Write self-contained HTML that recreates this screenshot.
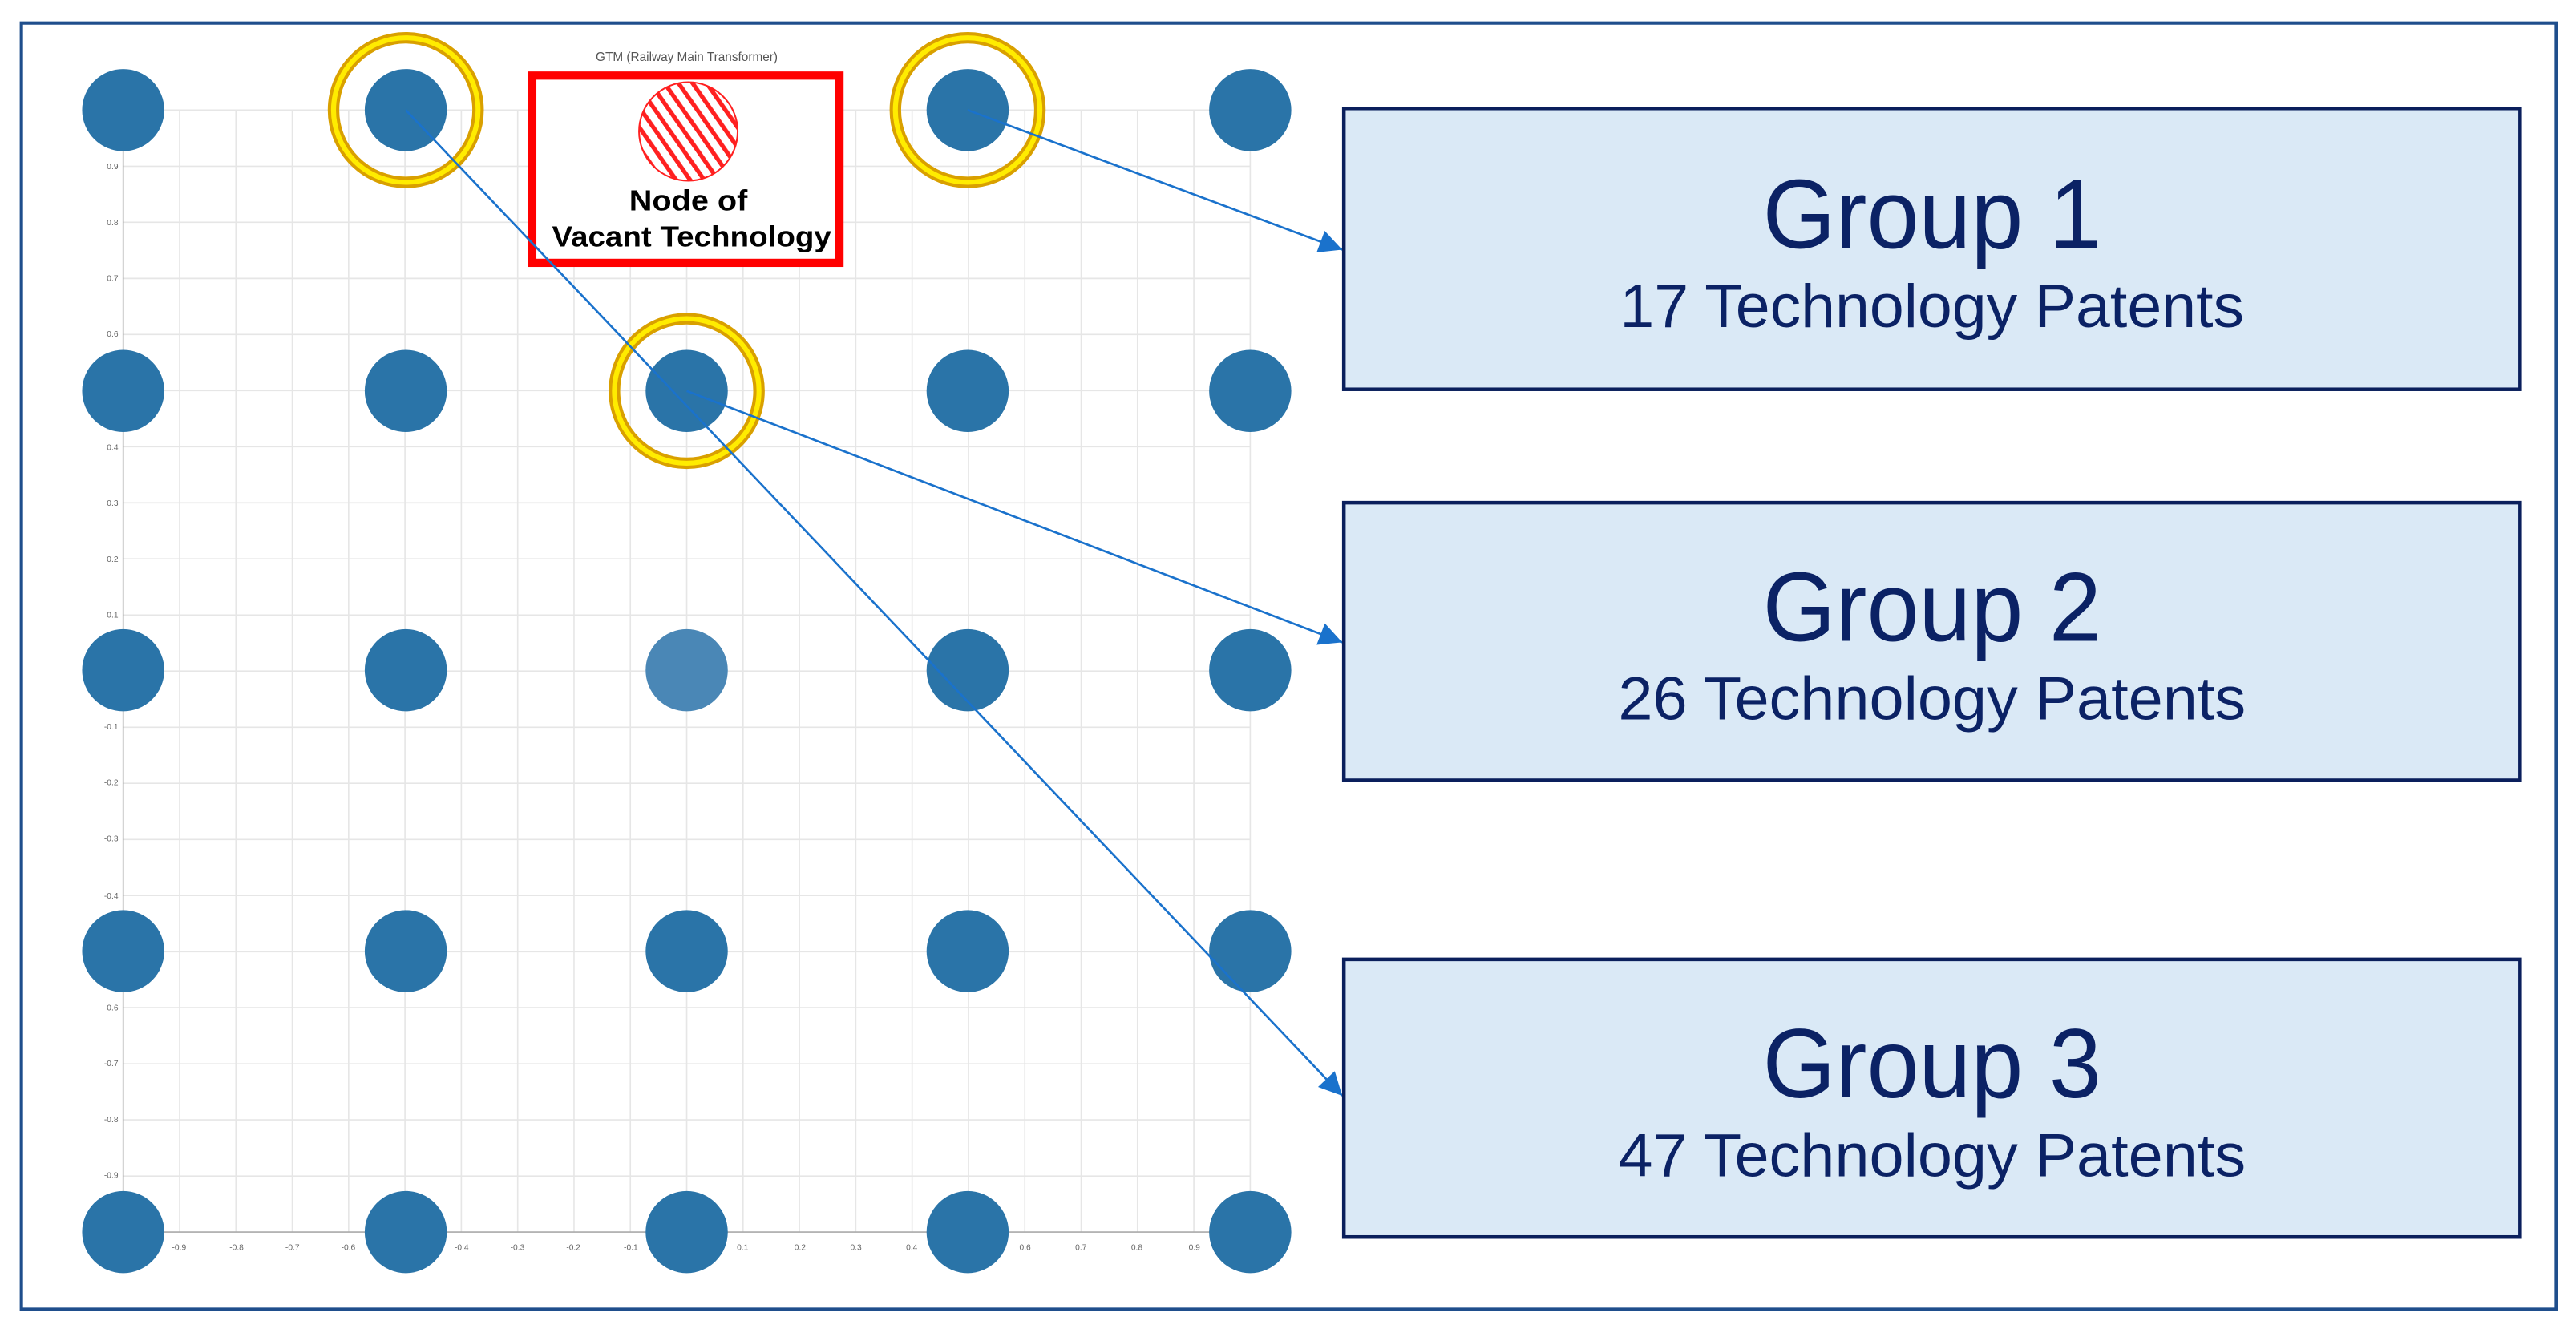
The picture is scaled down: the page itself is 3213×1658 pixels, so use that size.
<!DOCTYPE html>
<html><head><meta charset="utf-8"><style>
html,body{margin:0;padding:0;background:#fff;}
svg{display:block;}
</style></head><body>
<svg width="3213" height="1658" viewBox="0 0 1568 809" preserveAspectRatio="none" xmlns="http://www.w3.org/2000/svg">
<defs>
<pattern id="hatch" patternUnits="userSpaceOnUse" width="7" height="7" patternTransform="rotate(-35)">
<rect width="7" height="7" fill="#fff"/><rect width="2.6" height="7" fill="#ff2020"/>
</pattern>
<marker id="ah" viewBox="0 0 10 10" refX="10" refY="5" markerWidth="16" markerHeight="14" markerUnits="userSpaceOnUse" orient="auto">
<path d="M0,0 L10,5 L0,10 z" fill="#1a72cc"/>
</marker>
</defs>
<rect x="0" y="0" width="1568" height="809" fill="#fff"/>
<rect x="13" y="14" width="1543" height="783" fill="none" stroke="#1f4e8c" stroke-width="2"/>
<g stroke="#e6e6e6" stroke-width="0.8">
<line x1="109.3" y1="67" x2="109.3" y2="750"/><line x1="143.6" y1="67" x2="143.6" y2="750"/><line x1="177.9" y1="67" x2="177.9" y2="750"/><line x1="212.2" y1="67" x2="212.2" y2="750"/><line x1="246.5" y1="67" x2="246.5" y2="750"/><line x1="280.8" y1="67" x2="280.8" y2="750"/><line x1="315.1" y1="67" x2="315.1" y2="750"/><line x1="349.4" y1="67" x2="349.4" y2="750"/><line x1="383.7" y1="67" x2="383.7" y2="750"/><line x1="418" y1="67" x2="418" y2="750"/><line x1="452.3" y1="67" x2="452.3" y2="750"/><line x1="486.6" y1="67" x2="486.6" y2="750"/><line x1="520.9" y1="67" x2="520.9" y2="750"/><line x1="555.2" y1="67" x2="555.2" y2="750"/><line x1="589.5" y1="67" x2="589.5" y2="750"/><line x1="623.8" y1="67" x2="623.8" y2="750"/><line x1="658.1" y1="67" x2="658.1" y2="750"/><line x1="692.4" y1="67" x2="692.4" y2="750"/><line x1="726.7" y1="67" x2="726.7" y2="750"/><line x1="761" y1="67" x2="761" y2="750"/>
<line x1="75" y1="67" x2="761" y2="67"/><line x1="75" y1="101.2" x2="761" y2="101.2"/><line x1="75" y1="135.3" x2="761" y2="135.3"/><line x1="75" y1="169.5" x2="761" y2="169.5"/><line x1="75" y1="203.6" x2="761" y2="203.6"/><line x1="75" y1="237.8" x2="761" y2="237.8"/><line x1="75" y1="271.9" x2="761" y2="271.9"/><line x1="75" y1="306.1" x2="761" y2="306.1"/><line x1="75" y1="340.2" x2="761" y2="340.2"/><line x1="75" y1="374.4" x2="761" y2="374.4"/><line x1="75" y1="408.5" x2="761" y2="408.5"/><line x1="75" y1="442.7" x2="761" y2="442.7"/><line x1="75" y1="476.8" x2="761" y2="476.8"/><line x1="75" y1="511" x2="761" y2="511"/><line x1="75" y1="545.1" x2="761" y2="545.1"/><line x1="75" y1="579.3" x2="761" y2="579.3"/><line x1="75" y1="613.4" x2="761" y2="613.4"/><line x1="75" y1="647.6" x2="761" y2="647.6"/><line x1="75" y1="681.7" x2="761" y2="681.7"/><line x1="75" y1="715.9" x2="761" y2="715.9"/>
</g>
<line x1="75" y1="67" x2="75" y2="750" stroke="#aaa" stroke-width="0.8"/>
<line x1="75" y1="750" x2="761" y2="750" stroke="#aaa" stroke-width="0.8"/>
<g font-family="Liberation Sans, sans-serif" font-size="5" fill="#666" text-anchor="end">
<text x="72" y="103">0.9</text><text x="72" y="137">0.8</text><text x="72" y="171">0.7</text><text x="72" y="205">0.6</text><text x="72" y="274">0.4</text><text x="72" y="308">0.3</text><text x="72" y="342">0.2</text><text x="72" y="376">0.1</text><text x="72" y="444">-0.1</text><text x="72" y="478">-0.2</text><text x="72" y="512">-0.3</text><text x="72" y="547">-0.4</text><text x="72" y="615">-0.6</text><text x="72" y="649">-0.7</text><text x="72" y="683">-0.8</text><text x="72" y="717">-0.9</text>
</g>
<g font-family="Liberation Sans, sans-serif" font-size="5" fill="#666" text-anchor="middle">
<text x="109" y="761">-0.9</text><text x="144" y="761">-0.8</text><text x="178" y="761">-0.7</text><text x="212" y="761">-0.6</text><text x="281" y="761">-0.4</text><text x="315" y="761">-0.3</text><text x="349" y="761">-0.2</text><text x="384" y="761">-0.1</text><text x="452" y="761">0.1</text><text x="487" y="761">0.2</text><text x="521" y="761">0.3</text><text x="555" y="761">0.4</text><text x="624" y="761">0.6</text><text x="658" y="761">0.7</text><text x="692" y="761">0.8</text><text x="727" y="761">0.9</text>
</g>
<text x="418" y="37" font-family="Liberation Sans, sans-serif" font-size="7.5" fill="#555" text-anchor="middle">GTM (Railway Main Transformer)</text>
<g fill="none">
<circle cx="247" cy="67" r="44" stroke="#d9a000" stroke-width="7"/><circle cx="247" cy="67" r="44" stroke="#ffec00" stroke-width="3"/>
<circle cx="589" cy="67" r="44" stroke="#d9a000" stroke-width="7"/><circle cx="589" cy="67" r="44" stroke="#ffec00" stroke-width="3"/>
<circle cx="418" cy="238" r="44" stroke="#d9a000" stroke-width="7"/><circle cx="418" cy="238" r="44" stroke="#ffec00" stroke-width="3"/>
</g>
<g fill="#2a74a8">
<circle cx="75" cy="67" r="25"/><circle cx="247" cy="67" r="25"/><circle cx="589" cy="67" r="25"/><circle cx="761" cy="67" r="25"/>
<circle cx="75" cy="238" r="25"/><circle cx="247" cy="238" r="25"/><circle cx="418" cy="238" r="25"/><circle cx="589" cy="238" r="25"/><circle cx="761" cy="238" r="25"/>
<circle cx="75" cy="408" r="25"/><circle cx="247" cy="408" r="25"/><circle cx="589" cy="408" r="25"/><circle cx="761" cy="408" r="25"/>
<circle cx="75" cy="579" r="25"/><circle cx="247" cy="579" r="25"/><circle cx="418" cy="579" r="25"/><circle cx="589" cy="579" r="25"/><circle cx="761" cy="579" r="25"/>
<circle cx="75" cy="750" r="25"/><circle cx="247" cy="750" r="25"/><circle cx="418" cy="750" r="25"/><circle cx="589" cy="750" r="25"/><circle cx="761" cy="750" r="25"/>
</g>
<circle cx="418" cy="408" r="25" fill="#4a87b6"/>
<rect x="324" y="46" width="187" height="114" fill="#fff" stroke="#ff0000" stroke-width="5"/>
<circle cx="419" cy="80" r="30" fill="url(#hatch)" stroke="#ff2020" stroke-width="1"/>
<g font-family="Liberation Sans, sans-serif" font-weight="bold" font-size="17.5" fill="#000" text-anchor="middle">
<text x="419" y="128" textLength="72" lengthAdjust="spacingAndGlyphs">Node of</text>
<text x="421" y="150" textLength="170" lengthAdjust="spacingAndGlyphs">Vacant Technology</text>
</g>
<g stroke="#1a72cc" stroke-width="1.3" fill="none" marker-end="url(#ah)">
<line x1="247" y1="67" x2="817" y2="667"/>
<line x1="418" y1="238" x2="817" y2="391"/>
<line x1="589" y1="67" x2="817" y2="152"/>
</g>
<g fill="#dae9f6" stroke="#0a1f5c" stroke-width="2.2">
<rect x="818" y="66" width="716" height="171"/>
<rect x="818" y="306" width="716" height="169"/>
<rect x="818" y="584" width="716" height="169"/>
</g>
<g font-family="Liberation Sans, sans-serif" fill="#0b2265" text-anchor="middle">
<text x="1176" y="151" font-size="60" textLength="206" lengthAdjust="spacingAndGlyphs">Group 1</text>
<text x="1176" y="199" font-size="37" textLength="380" lengthAdjust="spacingAndGlyphs">17 Technology Patents</text>
<text x="1176" y="390" font-size="60" textLength="206" lengthAdjust="spacingAndGlyphs">Group 2</text>
<text x="1176" y="438" font-size="37" textLength="382" lengthAdjust="spacingAndGlyphs">26 Technology Patents</text>
<text x="1176" y="668" font-size="60" textLength="206" lengthAdjust="spacingAndGlyphs">Group 3</text>
<text x="1176" y="716" font-size="37" textLength="382" lengthAdjust="spacingAndGlyphs">47 Technology Patents</text>
</g>
</svg>
</body></html>
